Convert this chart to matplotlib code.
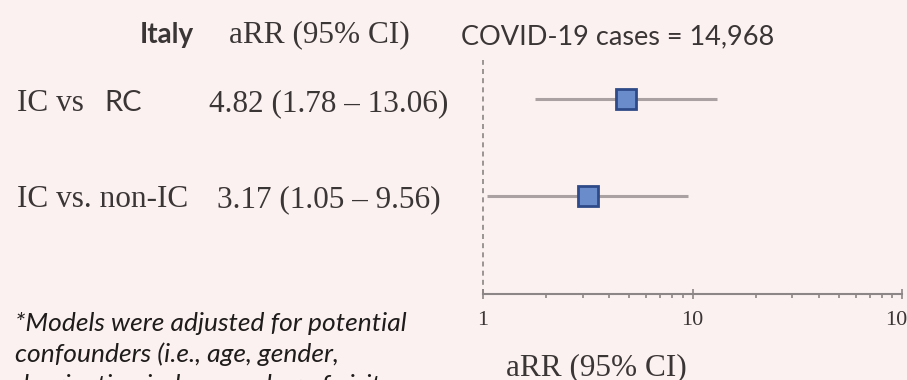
"""Forest plot: adjusted risk ratios for Italy (log scale)."""

import matplotlib
matplotlib.use("Agg")
import matplotlib.pyplot as plt

# data
label_serif = ["IC vs", "IC vs. non-IC"]
label_sans = ["RC", ""]
estimates = [4.82, 3.17]
lower = [1.78, 1.05]
upper = [13.06, 9.56]
xticks = [1, 10, 100]
header_country = "Italy"
header_col = "aRR (95% CI)"
header_cases = "COVID-19 cases = 14,968"
footnote = [
    "*Models were adjusted for potential",
    "confounders (i.e., age, gender,",
    "deprivation index, number of visits",
]

W, H = 907, 380
BG = "#fcf1f1"
TXT = "#3b3636"
SERIF = "Liberation Serif"
SANS = "Lato"


def px(x, y):
    return x / W, 1 - y / H


fig = plt.figure(figsize=(W / 100, H / 100), dpi=100, facecolor=BG)
ax = fig.add_axes([483 / W, 1 - 294 / H, (902 - 483) / W, (294 - 60) / H])
ax.set_facecolor(BG)

rows = list(range(len(estimates), 0, -1))
ax.hlines(rows, lower, upper, color="#aaa2a2", lw=2.2, zorder=2)
ax.plot(estimates, rows, ls="none", marker="s", ms=14, mfc="#6b8cca",
        mec="#2f4a88", mew=2, zorder=3)
ax.axvline(1, color="#8a8484", lw=1.2, ls=(0, (3, 2.5)), clip_on=False, zorder=1)

ax.set_xscale("log")
ax.set_xlim(1, 100)
ax.set_ylim(-0.01, 2.40)
ax.set_yticks([])
for s in ("left", "right", "top"):
    ax.spines[s].set_visible(False)
ax.spines["bottom"].set_color("#8c8686")
ax.spines["bottom"].set_linewidth(1.5)
ax.set_xticks(xticks, labels=[str(t) for t in xticks])
ax.tick_params(axis="x", which="major", direction="inout", length=7, width=1.2,
               color="#8c8686", pad=9, labelsize=16, labelcolor=TXT)
ax.tick_params(axis="x", which="minor", direction="out", length=3, width=1.2,
               color="#8c8686")
for lab in ax.get_xticklabels():
    lab.set_fontfamily(SERIF)

# header
fig.text(*px(140, 43), header_country, family=SANS, weight="bold", size=20,
         color=TXT, va="baseline")
fig.text(*px(229, 42), header_col, family=SERIF, size=22.5, color=TXT, va="baseline")
fig.text(*px(461, 44), header_cases, family=SANS, size=19.5, color=TXT, va="baseline")

# row labels
baselines = [111, 207]
for i in range(len(estimates)):
    y = baselines[i]
    fig.text(*px(17, y), label_serif[i], family=SERIF, size=22.5, color=TXT,
             va="baseline")
    if label_sans[i]:
        fig.text(*px(104, y), label_sans[i], family=SANS, size=21, color=TXT,
                 va="baseline")
    txt = f"{estimates[i]:.2f} ({lower[i]:.2f} – {upper[i]:.2f})"
    fig.text(*px(209 if i == 0 else 217, y), txt, family=SERIF, size=22.5,
             color=TXT, va="baseline")

fig.text(*px(596, 375), header_col, family=SERIF, size=22.5, color=TXT,
         ha="center", va="baseline")

for i, line in enumerate(footnote):
    fig.text(*px(15, 331 + 31 * i), line, family=SANS, style="italic", size=19,
             color="#1f1c1c", va="baseline")

fig.savefig("out.png", dpi=100, facecolor=BG)
